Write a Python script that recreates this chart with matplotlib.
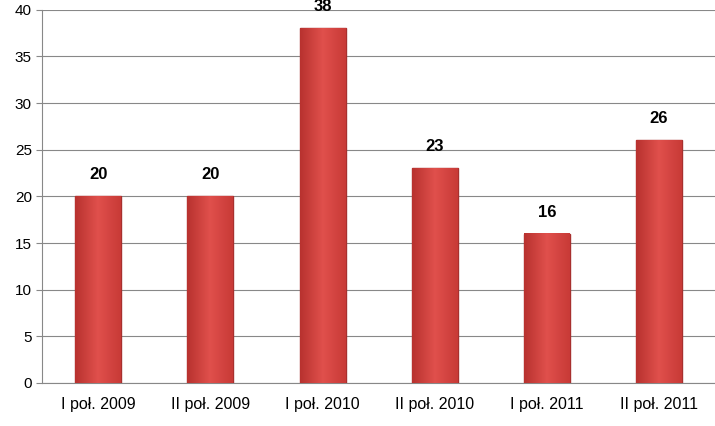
import matplotlib.pyplot as plt
import numpy as np

plt.rcParams['font.family'] = ['Liberation Sans', 'DejaVu Sans']

periods = ['I poł. 2009', 'II poł. 2009', 'I poł. 2010', 'II poł. 2010', 'I poł. 2011', 'II poł. 2011']
counts = [20, 20, 38, 23, 16, 26]

fig = plt.figure(figsize=(7.15, 4.26), dpi=100)
ax = fig.add_axes([0.059, 0.101, 0.941, 0.876])

x = np.arange(len(periods))
bars = ax.bar(x, counts, width=0.41, color='#D64541', edgecolor='#A8302E', linewidth=1, zorder=3)

# horizontal shading to imitate the gradient of the original bars
cmap = plt.matplotlib.colors.LinearSegmentedColormap.from_list('r', ['#B8322F', '#E0504C', '#C83A37'])
for b in bars:
    bx, bw, bh = b.get_x(), b.get_width(), b.get_height()
    grad = np.linspace(0, 1, 100).reshape(1, -1)
    ax.imshow(grad, extent=(bx, bx + bw, 0, bh), aspect='auto', zorder=4, cmap=cmap, clip_path=b)

for xi, c in zip(x, counts):
    ax.text(xi, c + 1.5, str(c), ha='center', va='bottom', fontsize=12, fontweight='bold')

ax.set_xlim(-0.5, 5.5)
ax.set_ylim(0, 40)
ax.set_yticks(range(0, 41, 5))
ax.set_xticks(x)
ax.set_xticklabels(periods, fontsize=11.5)
ax.tick_params(axis='y', labelsize=11, length=4, color='#888888')
ax.tick_params(axis='x', length=0, pad=10)
ax.grid(axis='y', color='#888888', linewidth=0.8, zorder=0)
for s in ['top', 'right']:
    ax.spines[s].set_visible(False)
ax.spines['left'].set_color('#888888')
ax.spines['bottom'].set_color('#888888')

fig.savefig('out.png', dpi=100)
